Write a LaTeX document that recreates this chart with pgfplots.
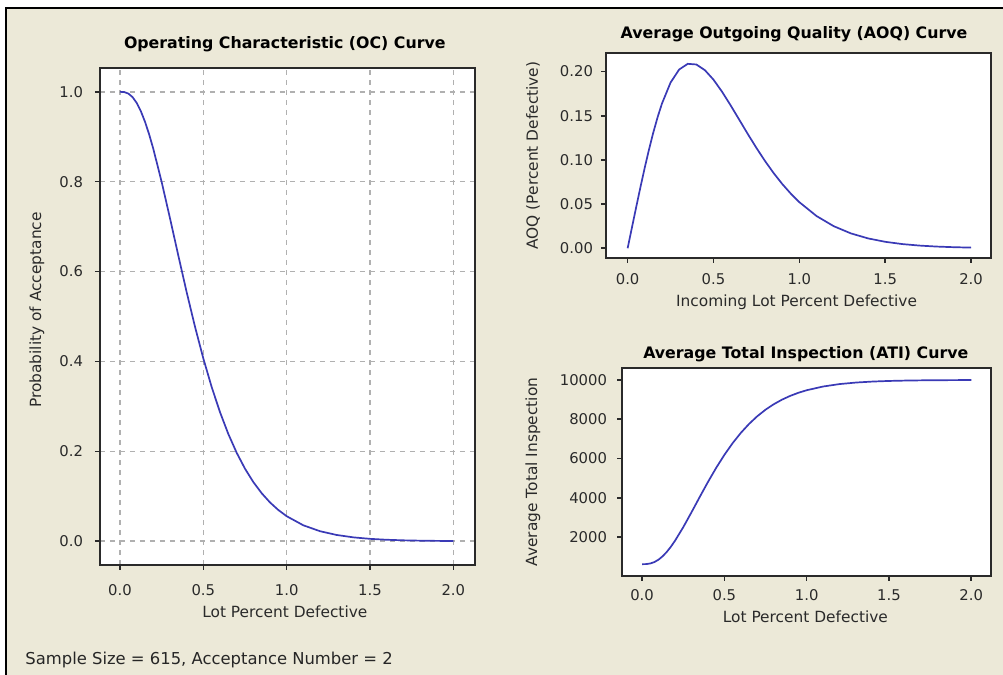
\documentclass[border=0pt]{standalone}
\usepackage{fontspec}
\setmainfont{DejaVu Sans}
\usepackage{pgfplots}
\usepackage{pgfplotstable}
\pgfplotsset{compat=1.18}
\definecolor{bg}{HTML}{ECE9D8}
\definecolor{curve}{RGB}{58,58,182}
\definecolor{axc}{HTML}{2A2A2A}
\definecolor{gridc}{HTML}{B0B0B0}

\pgfplotstableread{
p      pa       aoq      ati
0.000  1.00000  0.00000  615
0.025  0.99946  0.02345  620
0.050  0.99612  0.04674  651
0.075  0.98838  0.06957  724
0.100  0.97538  0.09154  846
0.125  0.95696  0.11226  1019
0.150  0.93339  0.13140  1240
0.175  0.90515  0.14866  1505
0.200  0.87291  0.16384  1808
0.250  0.79935  0.18755  2498
0.300  0.71854  0.20230  3256
0.350  0.63548  0.20874  4036
0.400  0.55411  0.20801  4800
0.450  0.47724  0.20155  5521
0.500  0.40660  0.19080  6184
0.550  0.34312  0.17711  6780
0.600  0.28713  0.16168  7305
0.650  0.23847  0.14547  7762
0.700  0.19673  0.12924  8154
0.750  0.16132  0.11355  8486
0.800  0.13155  0.09877  8765
0.850  0.10675  0.08516  8998
0.900  0.08624  0.07284  9191
0.950  0.06938  0.06186  9349
1.000  0.05560  0.05218  9478
1.100  0.03535  0.03649  9668
1.200  0.02221  0.02501  9792
1.300  0.01381  0.01685  9870
1.400  0.00851  0.01118  9920
1.500  0.00520  0.00732  9951
1.600  0.00316  0.00474  9970
1.700  0.00190  0.00304  9982
1.800  0.00114  0.00193  9989
1.900  0.00068  0.00122  9994
2.000  0.00041  0.00076  9996
}\data

\pgfplotsset{
  base/.style={
    scale only axis,
    anchor=south west,
    axis background/.style={fill=white},
    axis line style={axc, line width=1pt},
    tick style={axc, line width=0.8pt},
    tick align=outside,
    major tick length=2.5pt,
    tick pos=left,
    /pgf/number format/assume math mode=true,
    tick label style={font=\fontsize{7.4}{8}\selectfont, text=axc},
    label style={font=\fontsize{7.7}{9}\selectfont, text=axc},
    xlabel style={anchor=center},
    ylabel style={anchor=center},
    xtick={0,0.5,1,1.5,2},
    xticklabel style={/pgf/number format/fixed, /pgf/number format/fixed zerofill, /pgf/number format/precision=1},
    cycle list={{curve, mark=none}},
    every axis plot/.append style={line width=0.85pt},
  }
}
\tikzset{ttl/.style={font=\bfseries\fontsize{7.9}{9}\selectfont, text=black, anchor=center, inner sep=0pt}}

\begin{document}
\begin{tikzpicture}
\path[use as bounding box] (0,0) rectangle (501.5pt,337.5pt);
\fill[white] (0,0) rectangle (501.5pt,337.5pt);
\fill[bg] (3.1pt,0) rectangle (501.5pt,333.6pt);
\draw[black, line width=1.2pt] (3.1pt,0) -- (3.1pt,333.6pt) -- (501.5pt,333.6pt);

% OC curve
\begin{axis}[base,
  at={(50pt,55pt)}, width=187.5pt, height=248.5pt,
  xmin=-0.12, xmax=2.13, ymin=-0.053, ymax=1.053,
  ytick={0,0.2,0.4,0.6,0.8,1.0},
  yticklabel style={/pgf/number format/fixed, /pgf/number format/fixed zerofill, /pgf/number format/precision=1, xshift=-2.5pt},
  xticklabel style={yshift=-3.8pt},
  grid=major,
  major grid style={gridc, line width=0.7pt, dash pattern=on 2.6pt off 2.4pt},
  xlabel={Lot Percent Defective},
  xlabel style={at={(axis description cs:0.493,-0.0946)}},
  ylabel={Probability of Acceptance},
  ylabel style={at={(axis description cs:-0.168,0.513)}},
]
\addplot table[x=p, y=pa] {\data};
\end{axis}
\node[ttl] at (142.4pt,315.3pt) {Operating Characteristic (OC) Curve};

% AOQ curve
\begin{axis}[base,
  at={(303pt,208.5pt)}, width=192.5pt, height=102.5pt,
  xmin=-0.126, xmax=2.116, ymin=-0.011, ymax=0.221,
  ytick={0,0.05,0.10,0.15,0.20},
  yticklabel style={/pgf/number format/fixed, /pgf/number format/fixed zerofill, /pgf/number format/precision=2, xshift=-0.5pt},
  xticklabel style={yshift=-1.6pt},
  xlabel={Incoming Lot Percent Defective},
  xlabel style={at={(axis description cs:0.495,-0.2146)}},
  ylabel={AOQ (Percent Defective)},
  ylabel style={at={(axis description cs:-0.1896,0.5)}},
]
\addplot table[x=p, y=aoq] {\data};
\end{axis}
\node[ttl] at (397pt,320.3pt) {Average Outgoing Quality (AOQ) Curve};

% ATI curve
\begin{axis}[base,
  at={(311pt,49.5pt)}, width=184.5pt, height=104pt,
  xmin=-0.122, xmax=2.12, ymin=13, ymax=10611,
  ytick={2000,4000,6000,8000,10000},
  scaled y ticks=false,
  yticklabel style={/pgf/number format/fixed, /pgf/number format/1000 sep={}, xshift=-1.5pt},
  xticklabel style={yshift=-0.8pt},
  xlabel={Lot Percent Defective},
  xlabel style={at={(axis description cs:0.497,-0.197)}},
  ylabel={Average Total Inspection},
  ylabel style={at={(axis description cs:-0.2412,0.5)}},
]
\addplot table[x=p, y=ati] {\data};
\end{axis}
\node[ttl] at (402.9pt,160.6pt) {Average Total Inspection (ATI) Curve};

\node[anchor=base west, font=\fontsize{8.2}{10}\selectfont, text=black!85, inner sep=0pt]
  at (12.5pt,5pt) {Sample Size = 615, Acceptance Number = 2};
\end{tikzpicture}
\end{document}
